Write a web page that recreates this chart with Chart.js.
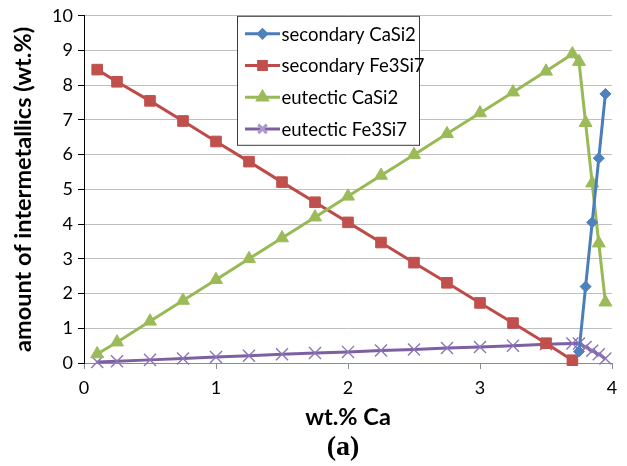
<!DOCTYPE html>
<html>
<head>
<meta charset="utf-8">
<script src="https://cdn.jsdelivr.net/npm/chart.js@4.4.1/dist/chart.umd.min.js"></script>
<style>
  html, body { margin: 0; padding: 0; background: #ffffff; }
  #wrap { width: 627px; height: 466px; }
</style>
</head>
<body>
<div id="wrap"><canvas id="c" width="627" height="466"></canvas></div>
<script>
// ---- data ----
const xMain = [0.1, 0.25, 0.5, 0.75, 1, 1.25, 1.5, 1.75, 2, 2.25, 2.5, 2.75, 3, 3.25, 3.5, 3.7];
const xTail = [3.75, 3.8, 3.85, 3.9, 3.95];

const secondaryCaSi2 = [0.33, 2.2, 4.05, 5.9, 7.75];                  // at xTail
const secondaryFe3Si7 = [8.45, 8.1, 7.55, 6.97, 6.38, 5.8, 5.21, 4.63, 4.05, 3.47, 2.89, 2.31, 1.73, 1.15, 0.57, 0.08]; // at xMain
const eutecticCaSi2 = [0.26, 0.6, 1.2, 1.8, 2.4, 3.0, 3.6, 4.2, 4.8, 5.4, 6.0, 6.6, 7.2, 7.8, 8.4, 8.9,
                       8.68, 6.92, 5.18, 3.45, 1.75];                 // at xMain + xTail
const eutecticFe3Si7 = [0.03, 0.05, 0.09, 0.13, 0.17, 0.21, 0.25, 0.29, 0.32, 0.36, 0.39, 0.43, 0.46, 0.5, 0.54, 0.56,
                        0.56, 0.46, 0.35, 0.25, 0.13];                // at xMain + xTail

const seriesNames = ['secondary CaSi2', 'secondary Fe3Si7', 'eutectic CaSi2', 'eutectic Fe3Si7'];
const xTicks = [0, 1, 2, 3, 4];
const yTicks = [0, 1, 2, 3, 4, 5, 6, 7, 8, 9, 10];
const xTitle = 'wt.% Ca';
const yTitle = 'amount of intermetallics (wt.%)';
const caption = '(a)';

function pts(xs, ys) { return ys.map((y, i) => ({ x: xs[i], y: y })); }
const xAll = xMain.concat(xTail);

const FONT = 'Lato';

const styles = [
  { line: '#4A7EBB', fill: '#4F81BD', pointStyle: 'rectRot', radius: 5.5, pbw: 1 },
  { line: '#BE4B48', fill: '#C0504D', pointStyle: 'rect', radius: 7.5, pbw: 1 },
  { line: '#98B954', fill: '#9BBB59', pointStyle: 'triangle', radius: 7.5, pbw: 1 },
  { line: '#7D60A0', fill: '#8C74BA', pointStyle: 'crossRot', radius: 8.5, pbw: 1.4 }
];

const seriesData = [
  pts(xTail, secondaryCaSi2),
  pts(xMain, secondaryFe3Si7),
  pts(xAll, eutecticCaSi2),
  pts(xAll, eutecticFe3Si7)
];

const datasets = seriesNames.map((name, i) => ({
  label: name,
  data: seriesData[i],
  showLine: true,
  borderColor: styles[i].line,
  backgroundColor: styles[i].fill,
  borderWidth: 3,
  pointStyle: styles[i].pointStyle,
  pointRadius: styles[i].radius,
  pointHoverRadius: styles[i].radius,
  pointBackgroundColor: styles[i].fill,
  pointBorderColor: styles[i].fill,
  pointBorderWidth: styles[i].pbw,
  tension: 0,
  clip: false
}));
// draw order: purple at back, then red, green, blue
datasets[0].order = 1; datasets[1].order = 3; datasets[2].order = 2; datasets[3].order = 4;

const legendBox = {
  id: 'legendBox',
  afterDraw(chart) {
    const ctx = chart.ctx;
    const a = chart.chartArea;
    const bx = a.left + 153.5, by = a.top + 0.5, bw = 182, bh = 129;
    ctx.save();
    ctx.fillStyle = '#ffffff';
    ctx.fillRect(bx, by, bw, bh);
    ctx.strokeStyle = '#3a3a3a';
    ctx.lineWidth = 1;
    ctx.strokeRect(bx, by, bw, bh);
    ctx.font = '18.5px ' + FONT;
    ctx.textBaseline = 'middle';
    ctx.textAlign = 'left';
    seriesNames.forEach((name, i) => {
      const y = by + 17.5 + i * 31.7;
      const x0 = bx + 7.5, x1 = bx + 42.5;
      ctx.strokeStyle = styles[i].line;
      ctx.lineWidth = 3;
      ctx.beginPath(); ctx.moveTo(x0, y); ctx.lineTo(x1, y); ctx.stroke();
      ctx.fillStyle = styles[i].fill;
      ctx.strokeStyle = i === 3 ? '#A999CC' : styles[i].fill;
      const r = i === 3 ? 6 : (i === 0 ? 4 : 5.5);
      Chart.helpers.drawPoint(ctx, { pointStyle: styles[i].pointStyle, radius: r, rotation: 0, borderWidth: i === 3 ? 1 : 0.5 }, (x0 + x1) / 2, y);
      ctx.fillStyle = '#000000';
      ctx.fillText(name, x1 + 1.5, y + 1);
    });
    // caption
    ctx.font = 'bold 28px "Liberation Serif"';
    ctx.textAlign = 'center';
    ctx.fillText(caption, 343, 448);
    ctx.restore();
  }
};

new Chart(document.getElementById('c'), {
  type: 'scatter',
  data: { datasets: datasets },
  options: {
    responsive: false,
    animation: false,
    devicePixelRatio: 1,
    layout: { padding: { left: 0, right: 15, top: 14, bottom: 0 } },
    plugins: { legend: { display: false }, tooltip: { enabled: false } },
    scales: {
      x: {
        type: 'linear', min: 0, max: 4,
        afterBuildTicks: s => { s.ticks = xTicks.map(v => ({ value: v })); },
        afterFit: s => { s.height = 103; },
        ticks: { color: '#000', font: { family: FONT, size: 18 }, padding: 8 },
        grid: { drawOnChartArea: false, drawTicks: true, tickLength: 6, tickColor: '#8c8c8c', tickWidth: 1 },
        border: { color: '#8c8c8c', width: 1 },
        title: { display: true, text: xTitle, color: '#000', font: { family: FONT, size: 23.5, weight: 'bold' }, padding: { top: 0, bottom: 34 } }
      },
      y: {
        type: 'linear', min: 0, max: 10,
        afterBuildTicks: s => { s.ticks = yTicks.map(v => ({ value: v })); },
        afterFit: s => { s.width = 84; },
        ticks: { color: '#000', font: { family: FONT, size: 18 }, padding: 5 },
        grid: { color: '#BFBFBF', lineWidth: 1, drawTicks: true, tickLength: 6, tickColor: '#000' },
        border: { color: '#000', width: 1 },
        title: { display: true, text: yTitle, color: '#000', font: { family: FONT, size: 23.5, weight: 'bold' }, padding: { top: 9, bottom: 0 } }
      }
    }
  },
  plugins: [legendBox]
});
</script>
</body>
</html>
